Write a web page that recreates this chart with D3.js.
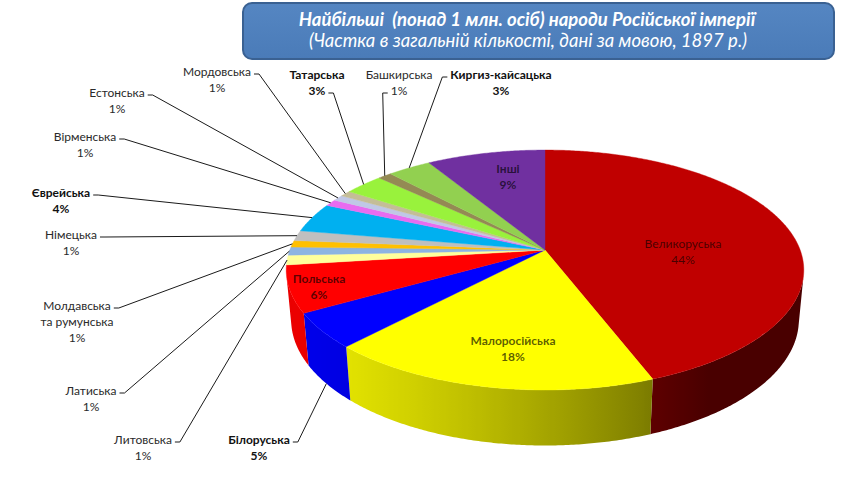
<!DOCTYPE html>
<html lang="uk">
<head>
<meta charset="utf-8">
<title>Народи Російської імперії, 1897</title>
<script src="https://d3js.org/d3.v7.min.js"></script>
<style>
  body { margin: 0; background: #fff; }
  svg { display: block; font-family: Lato, "Open Sans", sans-serif; }
</style>
</head>
<body>
<svg width="847" height="485"></svg>
<script>

// data (share of population by native language, %)
var names = ["Великоруська", "Малоросійська", "Білоруська", "Польська", "Литовська", "Латиська",
             "Молдавська\nта румунська", "Німецька", "Єврейська", "Вірменська", "Естонська",
             "Мордовська", "Татарська", "Башкирська", "Киргиз-кайсацька", "Інші"];
var shares = [44.2, 17.8, 4.7, 6.3, 1.3, 1.1, 0.9, 1.4, 4.0, 0.9, 0.8, 0.8, 2.9, 1.0, 3.2, 8.7];
var colors = ["#C00000", "#FFFF00", "#0000FF", "#FF0000", "#FFFF9C", "#8DB4E2", "#FFC000", "#BFBFBF",
              "#00B0F0", "#E86CF0", "#C0C8E6", "#C4BD97", "#99F23C", "#948A54", "#92D050", "#7030A0"];
var boldLabels = [0, 1, 1, 1, 0, 0, 0, 0, 1, 0, 0, 0, 1, 0, 1, 1];
var insideLabels = [1, 1, 0, 1, 0, 0, 0, 0, 0, 0, 0, 0, 0, 0, 0, 1];

// label layout: centre x, centre y of first line; where the leader leaves the text
var labelAt = [[683, 244], [513, 341], [259, 440], [319, 279], [143, 440], [91, 391], [77, 306],
               [71, 235], [61, 193], [85, 137], [117, 93], [217, 72], [317, 75], [399, 75],
               [501, 75], [508, 169]];
var leaderFrom = ["", "", "r1b", "", "r1", "r1", "r1", "r1", "r1", "r1", "r1", "r1", "r2", "l2", "l1", ""];

var svg = d3.select("svg");
var defs = svg.append("defs");

// 3d pie projection
var cx = 545, cy = 250;
var tilt = 27.2 * Math.PI / 180, dist = 5.33, focal = 1360, thick = 0.22;

function project(a, r, h) {
  var X = r * Math.sin(a), Z = -r * Math.cos(a);
  var yc = h * Math.cos(tilt) - Z * Math.sin(tilt);
  var dz = dist - h * Math.sin(tilt) - Z * Math.cos(tilt);
  return [cx + focal * X / dz, cy - focal * yc / dz];
}
// wall faces the camera when cos(a) < -1/(dist*cos(tilt))
var visLimit = Math.acos(-1 / (dist * Math.cos(tilt)));
var visStart = visLimit, visEnd = 2 * Math.PI - visLimit;

function shade(a) {
  var f = 0.45 + 0.47 * Math.cos(a - 245 * Math.PI / 180);
  return Math.max(0.38, Math.min(0.92, f));
}

var pie = d3.pie().sort(null).value(function(d) { return d; });
var arcs = pie(shares);
var step = Math.PI / 360;
var line = d3.line();

function sample(a0, a1) {
  var n = Math.max(1, Math.ceil((a1 - a0) / step));
  return d3.range(n + 1).map(function(i) { return a0 + (a1 - a0) * i / n; });
}

// side walls, one path per slice with a horizontal shading gradient
var walls = svg.append("g");
arcs.forEach(function(d, i) {
  var a0 = Math.max(d.startAngle, visStart), a1 = Math.min(d.endAngle, visEnd);
  if (a1 <= a0) return;
  var angs = sample(a0, a1);
  var top = angs.map(function(a) { return project(a, 1, 0); });
  var bot = angs.map(function(a) { return project(a, 1, -thick); }).reverse();
  var xs = top.map(function(p) { return p[0]; });
  var x0 = d3.min(xs), x1 = d3.max(xs);
  var c = d3.rgb(colors[i]);
  var g = defs.append("linearGradient").attr("id", "wall" + i)
    .attr("gradientUnits", "userSpaceOnUse")
    .attr("x1", x0).attr("y1", 0).attr("x2", x1).attr("y2", 0);
  angs.slice().reverse().forEach(function(a) {
    var p = project(a, 1, 0), f = shade(a);
    g.append("stop")
      .attr("offset", x1 > x0 ? (p[0] - x0) / (x1 - x0) : 0)
      .attr("stop-color", d3.rgb(c.r * f, c.g * f, c.b * f).toString());
  });
  walls.append("path")
    .attr("d", line(top.concat(bot)) + "Z")
    .attr("fill", "url(#wall" + i + ")");
});

// top faces
svg.append("g").selectAll("path")
  .data(arcs)
  .enter().append("path")
    .attr("d", function(d) {
      var pts = [project(0, 0, 0)].concat(sample(d.startAngle, d.endAngle).map(function(a) { return project(a, 1, 0); }));
      return line(pts) + "Z";
    })
    .attr("fill", function(d, i) { return colors[i]; })
    .attr("stroke", function(d, i) { return colors[i]; })
    .attr("stroke-width", 0.4);

// data labels
var total = d3.sum(shares);
var labels = svg.append("g").attr("font-size", 12);
var leaders = svg.append("g").attr("fill", "none").attr("stroke", "#1a1a1a").attr("stroke-width", 1);

arcs.forEach(function(d, i) {
  var lines = names[i].split("\n").concat([Math.round(shares[i] / total * 100) + "%"]);
  var x = labelAt[i][0], y = labelAt[i][1];
  var t = labels.append("text")
    .attr("text-anchor", "middle")
    .attr("font-weight", boldLabels[i] ? "bold" : "normal")
    .attr("fill", insideLabels[i] ? "#000" : (boldLabels[i] ? "#111" : "#2a2a2a"))
    .attr("fill-opacity", insideLabels[i] ? 0.65 : 1);
  var spans = lines.map(function(s, j) {
    return t.append("tspan").attr("x", x).attr("y", y + j * 16).attr("dy", "0.35em").text(s);
  });
  var from = leaderFrom[i];
  if (!from) return;
  var row = +from[1] - 1, dir = from[0] === "r" ? 1 : -1;
  var w = spans[row].node().getComputedTextLength();
  var ly = y + row * 16 + 2;
  var ax = x + dir * (w / 2 + 3);
  var mid = (d.startAngle + d.endAngle) / 2;
  var rim = project(mid, 1, from[2] === "b" ? -thick : 0);
  leaders.append("path").attr("d", line([[ax, ly], [ax + dir * 5, ly], rim]));
});

// title box
var grad = defs.append("linearGradient").attr("id", "titleFill").attr("x1", 0).attr("y1", 0).attr("x2", 0).attr("y2", 1);
grad.append("stop").attr("offset", "0%").attr("stop-color", "#5586c2");
grad.append("stop").attr("offset", "100%").attr("stop-color", "#4a7bb8");

svg.append("rect")
  .attr("x", 243).attr("y", 3).attr("width", 591).attr("height", 56).attr("rx", 9)
  .attr("fill", "url(#titleFill)")
  .attr("stroke", "#3a6192").attr("stroke-width", 2);

var title = svg.append("text").attr("text-anchor", "middle").attr("fill", "#fff").attr("font-style", "italic");
title.append("tspan").attr("x", 527).attr("y", 20).attr("dy", "0.35em")
  .attr("font-weight", "bold").attr("font-size", 18.5)
  .style("white-space", "pre")
  .text("Найбільші  (понад 1 млн. осіб) народи Російської імперії");
title.append("tspan").attr("x", 528).attr("y", 41).attr("dy", "0.35em")
  .attr("font-size", 18.5)
  .text("(Частка в загальній кількості, дані за мовою, 1897 р.)");

</script>
</body>
</html>
